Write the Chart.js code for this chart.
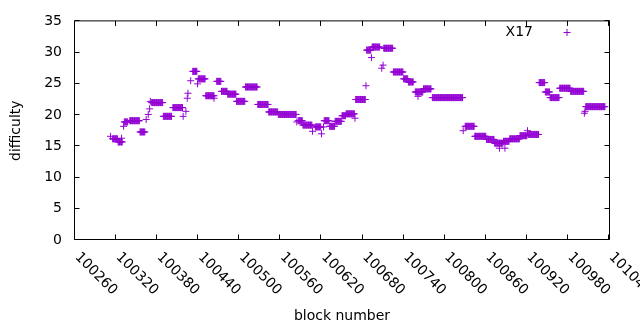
<!DOCTYPE html>
<html lang="en">
<head>
<meta charset="UTF-8">
<title>difficulty by block</title>
<script src="https://cdn.jsdelivr.net/npm/chart.js"></script>
<style>
    html, body { margin: 0; padding: 0; background: #fff; }
    #chart { display: block; }
</style>
</head>
<body>
<canvas id="chart" width="640" height="330"></canvas>
<script>
    // difficulty stays flat for a run of blocks: first block, last block, value
    const runStart = [100312,100315,100323,100328,100331,100332,100340,100355,100364,100367,100369,100370,100372,100389,100403,100418,100422,100424,100425,100429,
                      100432,100439,100440,100451,100463,100467,100474,100483,100496,100509,100527,100543,100557,100584,100586,100593,100607,100611,100620,100623,
                      100624,100632,100640,100650,100656,100669,100670,100685,100686,100693,100694,100708,100710,100711,100725,100740,100747,100757,100761,100769,
                      100782,100827,100830,100844,100861,100873,100880,100888,100886,100895,100910,100921,100922,100938,100947,100954,100968,100984,101004,101005,101006];
    const runEnd   = [100312,100322,100329,100328,100331,100337,100354,100362,100364,100367,100369,100370,100388,100401,100417,100418,100422,100424,100425,100429,
                      100438,100439,100450,100463,100463,100473,100482,100495,100508,100526,100542,100556,100583,100584,100592,100606,100607,100619,100620,100623,
                      100631,100639,100649,100655,100668,100669,100684,100685,100692,100693,100705,100708,100710,100724,100739,100746,100754,100768,100761,100780,
                      100826,100827,100843,100860,100872,100885,100880,100888,100894,100909,100920,100921,100937,100946,100953,100967,100983,101003,101004,101005,101034];
    const runDiff  = [16.6,16.2,15.7,16.3,18.2,18.9,19.1,17.3,19.3,20.1,21.0,22.2,22.0,19.8,21.2,19.8,20.6,22.7,23.5,25.5,
                      27.0,25.0,25.8,23.1,22.7,25.4,23.8,23.35,22.2,24.5,21.7,20.5,20.1,18.9,19.1,18.4,17.4,18.1,17.0,18.1,
                      19.1,18.2,19.0,19.9,20.2,19.5,22.5,24.7,30.4,29.2,30.9,27.5,28.0,30.7,26.9,25.8,25.3,23.7,23.0,24.2,
                      22.8,17.5,18.2,16.6,16.1,15.5,14.7,14.7,15.8,16.2,16.7,17.5,16.9,25.2,23.7,22.8,24.3,23.8,20.3,20.6,21.35];

    const xTicks = [100260,100320,100380,100440,100500,100560,100620,100680,100740,100800,100860,100920,100980,101040];
    const yTicks = [0,5,10,15,20,25,30,35];
    const seriesName = 'X17';

    const purple = '#9400d3';
    const font = '14px "DejaVu Sans"';

    // one point per block
    const points = [];
    runStart.forEach((start, i) => {
        for (let b = start; b <= runEnd[i]; b++) {
            points.push({ x: b, y: runDiff[i] });
        }
    });

    // gnuplot look: full frame, inward ticks, slanted x labels, key in the corner
    const framePlugin = {
        id: 'framePlugin',
        afterDraw(chart) {
            const { ctx, chartArea: a, scales } = chart;
            const xs = scales.x, ys = scales.y;
            const L = a.left - 0.5, R = a.right + 0.5, T = a.top - 0.5, B = a.bottom - 0.5;
            ctx.save();
            ctx.strokeStyle = '#000';
            ctx.lineWidth = 1;
            ctx.beginPath();
            ctx.rect(L, T, R - L, B - T);
            xTicks.forEach(v => {
                const px = Math.round(xs.getPixelForValue(v)) - 0.5;
                ctx.moveTo(px, B); ctx.lineTo(px, B - 5);
                ctx.moveTo(px, T); ctx.lineTo(px, T + 5);
            });
            yTicks.forEach(v => {
                const py = Math.round(ys.getPixelForValue(v)) - 0.5;
                ctx.moveTo(L, py); ctx.lineTo(L + 5, py);
                ctx.moveTo(R, py); ctx.lineTo(R - 5, py);
            });
            ctx.stroke();

            ctx.fillStyle = '#000';
            ctx.font = font;
            ctx.textAlign = 'left';
            ctx.textBaseline = 'middle';
            xTicks.forEach(v => {
                const px = xs.getPixelForValue(v);
                ctx.save();
                ctx.translate(px + 2, a.bottom + 15);
                ctx.rotate(Math.PI / 4);
                ctx.fillText(String(v), 0, 0);
                ctx.restore();
            });

            // key
            ctx.textAlign = 'right';
            ctx.fillText(seriesName, 533, 32);
            ctx.strokeStyle = purple;
            ctx.beginPath();
            ctx.moveTo(563.5, 32.5); ctx.lineTo(570.5, 32.5);
            ctx.moveTo(567, 29); ctx.lineTo(567, 36);
            ctx.stroke();
            ctx.restore();
        }
    };

    Chart.defaults.color = '#000';
    Chart.defaults.font.family = '"DejaVu Sans"';
    Chart.defaults.font.size = 14;

    new Chart(document.getElementById('chart'), {
        type: 'scatter',
        data: {
            datasets: [{
                label: seriesName,
                data: points,
                pointStyle: 'cross',
                pointRadius: 3.5,
                pointBorderWidth: 1,
                borderColor: purple,
                backgroundColor: purple
            }]
        },
        options: {
            responsive: false,
            animation: false,
            layout: { padding: { top: 20, right: 31, left: 0, bottom: 0 } },
            plugins: {
                legend: { display: false },
                tooltip: { enabled: false }
            },
            scales: {
                x: {
                    type: 'linear',
                    min: xTicks[0],
                    max: xTicks[xTicks.length - 1],
                    grid: { display: false, drawTicks: false },
                    border: { display: false },
                    ticks: { display: false },
                    title: { display: true, text: 'block number', padding: { top: 0, bottom: 5 } },
                    afterFit: s => { s.height = 90; }
                },
                y: {
                    min: yTicks[0],
                    max: yTicks[yTicks.length - 1],
                    grid: { display: false, drawTicks: false },
                    border: { display: false },
                    ticks: { padding: 13 },
                    afterBuildTicks: s => { s.ticks = yTicks.map(v => ({ value: v })); },
                    title: { display: true, text: 'difficulty', padding: { top: 8, bottom: 0 } },
                    afterFit: s => { s.width = 75; }
                }
            }
        },
        plugins: [framePlugin]
    });
</script>
</body>
</html>
